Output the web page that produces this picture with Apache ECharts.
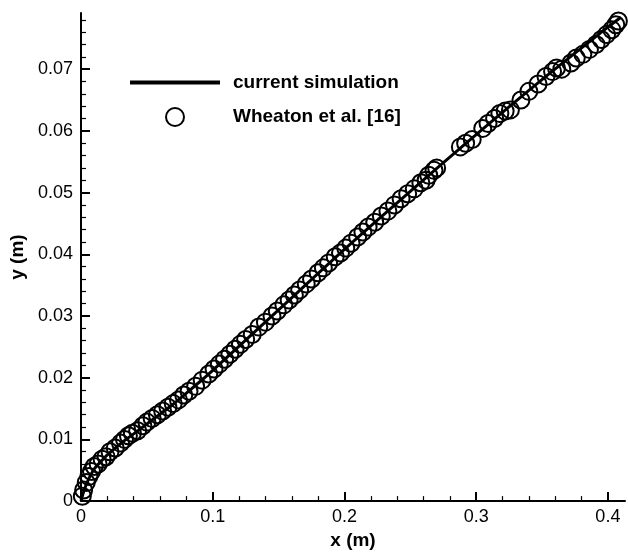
<!DOCTYPE html>
<html>
<head>
<meta charset="utf-8">
<script src="https://cdn.jsdelivr.net/npm/echarts@6/dist/echarts.min.js"></script>
<style>
  html, body { margin: 0; padding: 0; background: #fff; }
  #chart { width: 628px; height: 555px; }
</style>
</head>
<body>
<div id="chart"></div>
<script>
// current simulation curve
var simX = [0, 0.002, 0.005, 0.01, 0.015, 0.02, 0.03, 0.04, 0.05, 0.06, 0.07, 0.08, 0.09, 0.1,
            0.15, 0.2, 0.25, 0.3, 0.35, 0.4, 0.41];
var simY = [0, 0.0015, 0.0032, 0.0052, 0.0064, 0.0075, 0.0093, 0.0109, 0.0125, 0.0141, 0.0157, 0.0175, 0.0193, 0.0212,
            0.031, 0.0408, 0.0502, 0.0594, 0.0683, 0.0768, 0.0784];

// Wheaton et al. [16] measurements
var expX = [0.001, 0.002, 0.004, 0.006, 0.008, 0.010, 0.013, 0.016, 0.019, 0.022, 0.026, 0.030, 0.033, 0.036, 0.039,
            0.043, 0.047, 0.050, 0.054, 0.058, 0.062, 0.066, 0.070, 0.074, 0.078, 0.082, 0.087, 0.092, 0.097, 0.101,
            0.105, 0.109, 0.113, 0.117, 0.121, 0.125, 0.130, 0.135, 0.140, 0.145, 0.149, 0.154, 0.158, 0.162, 0.166,
            0.171, 0.175, 0.180, 0.184, 0.188, 0.193, 0.197, 0.201, 0.205, 0.210, 0.214, 0.218, 0.223, 0.228, 0.233,
            0.238, 0.243, 0.248, 0.253, 0.258, 0.262, 0.264, 0.268, 0.270, 0.288, 0.292, 0.297, 0.305, 0.309, 0.314,
            0.318, 0.322, 0.326, 0.334, 0.340, 0.347, 0.353, 0.358, 0.361, 0.365, 0.372, 0.376, 0.381, 0.386, 0.391,
            0.395, 0.399, 0.403, 0.406, 0.408];
var expY = [0.0008, 0.0018, 0.0030, 0.0040, 0.0048, 0.0056, 0.0060, 0.0068, 0.0072, 0.0080, 0.0086, 0.0094, 0.0100, 0.0106, 0.0110,
            0.0114, 0.0122, 0.0128, 0.0134, 0.0140, 0.0146, 0.0152, 0.0158, 0.0164, 0.0172, 0.0178, 0.0186, 0.0196, 0.0206, 0.0214,
            0.0222, 0.0230, 0.0238, 0.0246, 0.0254, 0.0262, 0.0270, 0.0282, 0.0290, 0.0300, 0.0308, 0.0318, 0.0326, 0.0334, 0.0342,
            0.0352, 0.0360, 0.0370, 0.0378, 0.0386, 0.0396, 0.0402, 0.0410, 0.0418, 0.0428, 0.0436, 0.0444, 0.0452, 0.0462, 0.0470,
            0.0480, 0.0490, 0.0498, 0.0506, 0.0516, 0.0520, 0.0528, 0.0536, 0.0540, 0.0574, 0.0580, 0.0586, 0.0604, 0.0612, 0.0620,
            0.0628, 0.0632, 0.0634, 0.0650, 0.0664, 0.0676, 0.0688, 0.0696, 0.0702, 0.0700, 0.0710, 0.0718, 0.0724, 0.0732, 0.0740,
            0.0748, 0.0756, 0.0764, 0.0772, 0.0778];

// ticks
var xMajor = [0, 0.1, 0.2, 0.3, 0.4];
var yMajor = [0, 0.01, 0.02, 0.03, 0.04, 0.05, 0.06, 0.07];
var xMax = 0.413, yMax = 0.0791;

function minors(major, step, max) {
    var out = [];
    for (var i = 0; i < major.length; i++) {
        for (var k = 1; k < 5; k++) {
            var v = +(major[i] + k * step).toFixed(4);
            if (v < max) out.push(v);
        }
    }
    return out;
}
var xMinor = minors(xMajor, 0.02, xMax);
var yMinor = minors(yMajor, 0.002, yMax);

function pairs(a, b) {
    return a.map(function (v, i) { return [v, b[i]]; });
}
function fmt(v) { return String(Math.round(v * 1000) / 1000); }

var font = 'Liberation Sans';
var black = '#000';

var chart = echarts.init(document.getElementById('chart'), null, {renderer: 'canvas'});

function axis(major, minor, max, isX) {
    var common = {
        type: 'value', min: 0, max: max,
        splitLine: {show: false}
    };
    var main = Object.assign({}, common, {
        position: isX ? 'bottom' : 'left',
        name: isX ? 'x (m)' : 'y (m)',
        nameLocation: 'middle',
        nameGap: isX ? 25 : 54,
        nameTextStyle: {fontFamily: font, fontSize: 19, fontWeight: 'bold', color: black},
        axisLine: {show: true, onZero: false, lineStyle: {color: black, width: 2}},
        axisTick: {show: true, inside: true, length: 9, customValues: major, lineStyle: {color: black, width: 2}},
        axisLabel: {show: true, margin: isX ? 7 : 8, customValues: major, formatter: fmt,
            fontFamily: font, fontSize: 18, color: black}
    });
    var sub = Object.assign({}, common, {
        position: isX ? 'bottom' : 'left',
        axisLine: {show: false, onZero: false},
        axisTick: {show: true, inside: true, length: 5, customValues: minor, lineStyle: {color: black, width: 1.2}},
        axisLabel: {show: false}
    });
    return [main, sub];
}

chart.setOption({
    animation: false,
    backgroundColor: '#fff',
    grid: {left: 81, right: 3, top: 13, bottom: 47},
    xAxis: axis(xMajor, xMinor, xMax, true),
    yAxis: axis(yMajor, yMinor, yMax, false),
    legend: {
        orient: 'vertical',
        left: 130, top: 73,
        padding: 0,
        itemWidth: 90, itemHeight: 18, itemGap: 15,
        textStyle: {fontFamily: font, fontSize: 19, fontWeight: 'bold', color: black, padding: [0, 0, 0, 8]},
        data: [
            {name: 'current simulation', icon: 'path://M0,0 L90,0 L90,4 L0,4 Z'},
            {name: 'Wheaton et al. [16]'}
        ]
    },
    series: [{
        name: 'current simulation',
        type: 'line',
        xAxisIndex: 0, yAxisIndex: 0,
        data: pairs(simX, simY),
        showSymbol: false,
        symbol: 'none',
        smooth: 0.3,
        lineStyle: {color: black, width: 3},
        itemStyle: {color: black},
        z: 3
    }, {
        name: 'Wheaton et al. [16]',
        type: 'scatter',
        xAxisIndex: 0, yAxisIndex: 0,
        data: pairs(expX, expY),
        symbol: 'circle',
        symbolSize: 17,
        itemStyle: {color: 'rgba(0,0,0,0)', borderColor: black, borderWidth: 2, opacity: 1},
        z: 2
    }]
});
</script>
</body>
</html>
